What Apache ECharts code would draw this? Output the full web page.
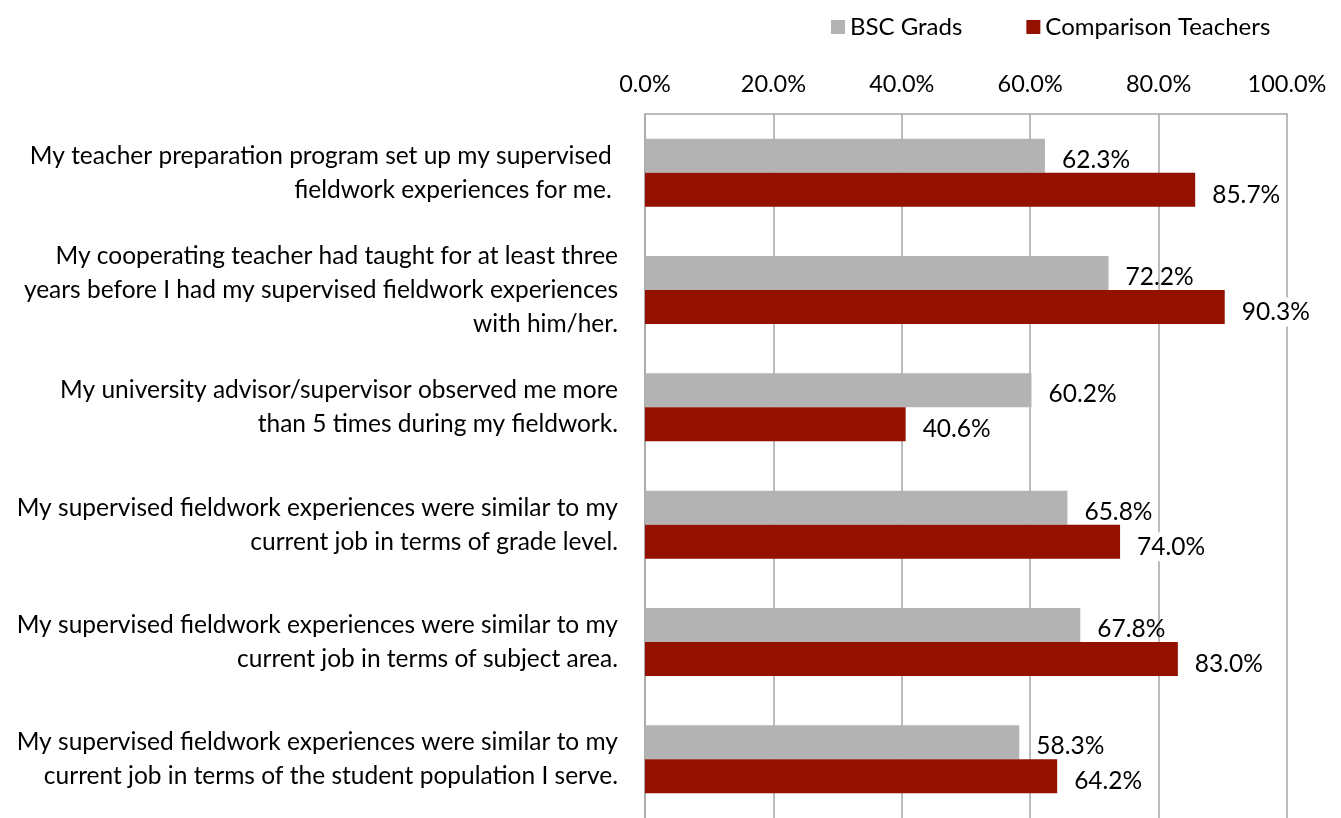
<!DOCTYPE html>
<html>
<head>
<meta charset="utf-8">
<script src="https://cdn.jsdelivr.net/npm/echarts@6/dist/echarts.min.js"></script>
<style>
html, body { margin: 0; padding: 0; background: #fff; }
#chart { width: 1341px; height: 818px; }
</style>
</head>
<body>
<div id="chart"></div>
<script>
// 题目
var categories = [
	'My teacher preparation program set up my supervised \nfieldwork experiences for me. ',
	'My cooperating teacher had taught for at least three\nyears before I had my supervised fieldwork experiences\nwith him/her.',
	'My university advisor/supervisor observed me more\nthan 5 times during my fieldwork.',
	'My supervised fieldwork experiences were similar to my\ncurrent job in terms of grade level.',
	'My supervised fieldwork experiences were similar to my\ncurrent job in terms of subject area.',
	'My supervised fieldwork experiences were similar to my\ncurrent job in terms of the student population I serve.'
];
var bscGrads = [62.3, 72.2, 60.2, 65.8, 67.8, 58.3];
var comparisonTeachers = [85.7, 90.3, 40.6, 74.0, 83.0, 64.2];

var font = 'Lato';
var fs = 24.5;
var Chart = echarts.init(document.getElementById('chart'));

function pct(p) {
	return p.value.toFixed(1) + '%';
}

var option = {
	animation: false,
	textStyle: { fontFamily: font },
	legend: {
		top: 10,
		left: 826,
		itemWidth: 14,
		itemHeight: 14,
		itemGap: 64,
		icon: 'rect',
		textStyle: { fontSize: 24, color: '#000', fontFamily: font },
		data: ['BSC Grads', 'Comparison Teachers']
	},
	grid: {
		left: 645,
		top: 114,
		width: 642,
		height: 711
	},
	xAxis: {
		type: 'value',
		position: 'top',
		min: 0,
		max: 100,
		interval: 20,
		axisLine: { show: true, lineStyle: { color: '#a6a6a6', width: 1.5 } },
		axisTick: { show: false },
		splitLine: { show: true, lineStyle: { color: '#a6a6a6', width: 1.5 } },
		axisLabel: {
			margin: 18,
			fontSize: 23.5,
			color: '#000',
			fontFamily: font,
			formatter: function (v) { return v.toFixed(1) + '%'; }
		}
	},
	yAxis: {
		type: 'category',
		inverse: true,
		data: categories,
		axisLine: { show: true, lineStyle: { color: '#a6a6a6', width: 1.5 } },
		axisTick: { show: false },
		axisLabel: {
			margin: 27,
			fontSize: fs,
			lineHeight: 34,
			color: '#000',
			align: 'right',
			fontFamily: font
		}
	},
	series: [{
		name: 'BSC Grads',
		type: 'bar',
		data: bscGrads,
		barWidth: 34,
		barGap: '0%',
		itemStyle: { color: '#b3b3b3' },
		label: {
			show: true,
			position: 'right',
			distance: 17,
			offset: [0, 4],
			fontSize: fs,
			color: '#000',
			fontFamily: font,
			formatter: pct
		}
	}, {
		name: 'Comparison Teachers',
		type: 'bar',
		data: comparisonTeachers,
		barWidth: 34,
		barGap: '0%',
		itemStyle: { color: '#941100' },
		label: {
			show: true,
			position: 'right',
			distance: 15,
			offset: [0, 5],
			fontSize: fs,
			color: '#000',
			backgroundColor: '#fff',
			padding: [2, 2],
			fontFamily: font,
			formatter: pct
		}
	}]
};
Chart.setOption(option);
</script>
</body>
</html>
